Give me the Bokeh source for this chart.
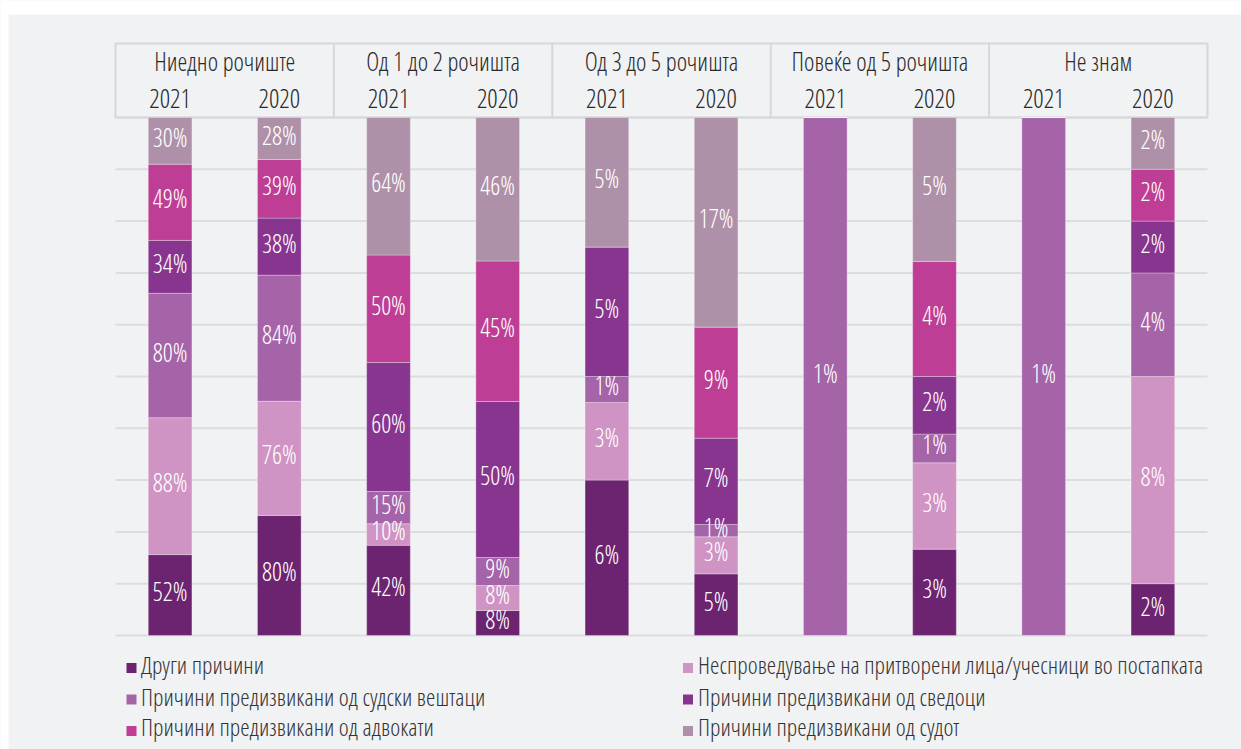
from bokeh.plotting import figure
from bokeh.models import ColumnDataSource, Range1d
from bokeh.core.properties import value
from bokeh.embed import file_html
from bokeh.resources import INLINE

# ---------------- data ----------------
groups = ["Ниедно рочиште", "Од 1 до 2 рочишта", "Од 3 до 5 рочишта",
          "Повеќе од 5 рочишта", "Не знам"]
years = ["2021", "2020"]

series_names = [
    "Други причини",
    "Неспроведување на притворени лица/учесници во постапката",
    "Причини предизвикани од судски вештаци",
    "Причини предизвикани од сведоци",
    "Причини предизвикани од адвокати",
    "Причини предизвикани од судот",
]
colors = ["#6C2470", "#CF93C4", "#A564A8", "#88358F", "#BD3E94", "#AE91A8"]

# bars in order: group1-2021, group1-2020, group2-2021, ...
drugi    = [52, 80, 42, 8, 6, 5, 0, 3, 0, 2]
nespr    = [88, 76, 10, 8, 3, 3, 0, 3, 0, 8]
vestaci  = [80, 84, 15, 9, 1, 1, 1, 1, 1, 4]
svedoci  = [34, 38, 60, 50, 5, 7, 0, 2, 0, 2]
advokati = [49, 39, 50, 45, 0, 9, 0, 4, 0, 2]
sudot    = [30, 28, 64, 46, 5, 17, 0, 5, 0, 2]
series_values = [drugi, nespr, vestaci, svedoci, advokati, sudot]

# ---------------- layout helpers ----------------
FONT = "Open Sans Condensed Light"
W, H = 1241, 749
ORIGIN = 0.0
BASE_Y = 635.0       # page y of value 0
PX_PER_UNIT = 5.18   # page px per percent
X0 = 115.0           # page x of slot 0
SLOT = 109.2         # page px per bar slot


def py(page_y):
    return (BASE_Y - page_y) / PX_PER_UNIT


def px(page_x):
    return (page_x - X0) / SLOT


p = figure(width=W, height=H, output_backend="svg", toolbar_location=None,
           x_range=Range1d(px(ORIGIN), px(ORIGIN + W)),
           y_range=Range1d(py(ORIGIN + H), py(ORIGIN)),
           x_axis_location=None, y_axis_location=None, min_border=0,
           background_fill_color="#F1F2F4", border_fill_color="#F1F2F4",
           outline_line_color=None)
p.grid.visible = False

# white strip at very top and left margin
p.quad(left=px(ORIGIN), right=px(ORIGIN + W), bottom=py(14), top=py(ORIGIN),
       fill_color="white", line_color=None)
p.quad(left=px(ORIGIN), right=px(8), bottom=py(ORIGIN + H), top=py(ORIGIN),
       fill_color="white", line_color=None)

# gridlines
ticks = list(range(0, 101, 10))
p.segment(x0=[0] * len(ticks), x1=[10] * len(ticks), y0=ticks, y1=ticks,
          line_color="#DCDDE0", line_width=2)

# header box
hdr_top = py(43)
p.quad(left=0, right=10, bottom=100, top=hdr_top, fill_color=None,
       line_color="#D6D7DA", line_width=2)
p.segment(x0=[2, 4, 6, 8], x1=[2, 4, 6, 8], y0=[100] * 4, y1=[hdr_top] * 4,
          line_color="#D6D7DA", line_width=2)
p.text(x=[2 * i + 1 for i in range(len(groups))], y=[py(60)] * len(groups),
       text=groups, text_font=value(FONT), text_font_size="25px",
       text_color="#2A2A2A", text_align="center", text_baseline="middle")
yr_x = [i + 0.5 for i in range(2 * len(groups))]
p.text(x=yr_x, y=[py(98)] * len(yr_x), text=years * len(groups),
       text_font=value(FONT), text_font_size="26px",
       text_color="#2A2A2A", text_align="center", text_baseline="middle")

# stacked 100% bars
n = len(drugi)
totals = [sum(s[i] for s in series_values) for i in range(n)]
xs = [i + 0.5 for i in range(n)]
bottoms = [0.0] * n
lx, ly, lt = [], [], []
label_lift = 4.0 / PX_PER_UNIT  # labels sit slightly above the segment centre
for name, col, vals in zip(series_names, colors, series_values):
    frac = [vals[i] / totals[i] * 100 for i in range(n)]
    tops = [bottoms[i] + frac[i] for i in range(n)]
    src = ColumnDataSource(dict(x=xs, bottom=bottoms, top=tops))
    p.vbar(x="x", width=0.4, bottom="bottom", top="top", source=src,
           fill_color=col, line_color="white", line_alpha=0.3, line_width=1)
    for i in range(n):
        if vals[i] > 0:
            lx.append(xs[i])
            ly.append((bottoms[i] + tops[i]) / 2 + label_lift)
            lt.append(f"{vals[i]}%")
    bottoms = tops

p.text(x=lx, y=ly, text=lt, text_font=value(FONT), text_font_size="25px",
       text_color="white", text_align="center", text_baseline="middle")

# legend (two columns, row-major order)
row_text = [py(663.5), py(695.5), py(725.5)]
row_mark = [py(667.5), py(699), py(730.5)]
col_mark = [px(131), px(687.5)]
col_text = [px(140.5), px(697.5)]
mx, my, mc, tx, ty = [], [], [], [], []
for k, name in enumerate(series_names):
    r, c = divmod(k, 2)
    mx.append(col_mark[c]); my.append(row_mark[r]); mc.append(colors[k])
    tx.append(col_text[c]); ty.append(row_text[r])
p.scatter(x=mx, y=my, marker="square", size=10, fill_color=mc, line_color=None)
p.text(x=tx, y=ty, text=series_names, text_font=value(FONT),
       text_font_size="24px", text_color="#333333", text_align="left",
       text_baseline="middle")

open("out.html", "w").write(file_html(p, INLINE))
